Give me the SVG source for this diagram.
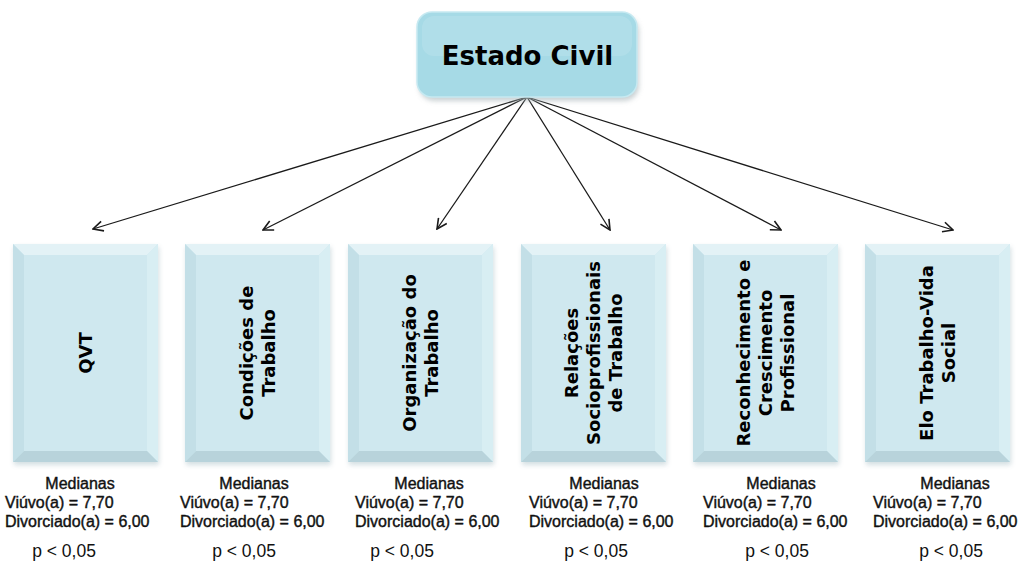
<svg xmlns="http://www.w3.org/2000/svg" width="1029" height="564" viewBox="0 0 1029 564">
<style>
.vt{font-family:"DejaVu Sans",Verdana,sans-serif;font-weight:bold;font-size:18px;fill:#000;text-anchor:middle}
.title{font-family:"DejaVu Sans",Verdana,sans-serif;font-weight:bold;font-size:26px;fill:#000;text-anchor:middle}
.med{font-family:"Liberation Sans",Arial,sans-serif;font-size:16px;fill:#111;stroke:#111;stroke-width:0.4}
.p{font-family:"Liberation Sans",Arial,sans-serif;font-size:17.5px;fill:#111;text-anchor:middle}
.arrow{stroke:#1a1a1a;stroke-width:1.3;fill:none;marker-end:url(#ah)}
</style>
<defs>
<marker id="ah" viewBox="0 0 12 12" refX="11" refY="6" markerWidth="12" markerHeight="12" markerUnits="userSpaceOnUse" orient="auto">
<path d="M1,1 L11,6 L1,11" fill="none" stroke="#1a1a1a" stroke-width="1.6"/>
</marker>
<filter id="sh" x="-20%" y="-20%" width="140%" height="150%">
<feGaussianBlur stdDeviation="2.5"/>
</filter>
<g id="bev">
<rect x="1" y="3" width="145" height="218" fill="#9fb7bf" opacity="0.45" filter="url(#sh)"/>
<rect x="0" y="0" width="145" height="218" fill="#cfe8ef"/>
<polygon points="0,0 145,0 134,11 11,11" fill="#e3f2f6"/>
<polygon points="0,0 11,11 11,207 0,218" fill="#c3dfe7"/>
<polygon points="145,0 145,218 134,207 134,11" fill="#d8eef3"/>
<polygon points="0,218 11,207 134,207 145,218" fill="#b8d3db"/>
</g>
</defs>
<rect width="1029" height="564" fill="#ffffff"/>

<g id="connectors">
<line class="arrow" x1="527" y1="97" x2="93" y2="229"/>
<line class="arrow" x1="527" y1="97" x2="263" y2="230"/>
<line class="arrow" x1="527" y1="97" x2="437" y2="229"/>
<line class="arrow" x1="527" y1="97" x2="610" y2="230"/>
<line class="arrow" x1="527" y1="97" x2="781" y2="230"/>
<line class="arrow" x1="527" y1="97" x2="953" y2="230"/>
</g>

<g id="estado-civil">
<rect x="419" y="16" width="220" height="85" rx="15" fill="#a7b4b8" opacity="0.6" filter="url(#sh)"/>
<rect x="417" y="12" width="220" height="85" rx="15" fill="#a6dae6" stroke="#c6e9f1" stroke-width="1.5"/>
<rect x="422" y="16" width="210" height="40" rx="12" fill="#ffffff" opacity="0.12"/>
<text class="title" x="527.5" y="65">Estado Civil</text>
</g>

<g id="qvt">
<use href="#bev" x="13" y="244"/>
<text class="vt" transform="translate(85.5,353) rotate(-90)" y="6.5">QVT</text>
</g>

<g id="condicoes">
<use href="#bev" x="185" y="244"/>
<text class="vt" transform="translate(257.5,353) rotate(-90)"><tspan x="0" y="-4.3">Condições de</tspan><tspan x="0" y="17.3">Trabalho</tspan></text>
</g>

<g id="organizacao">
<use href="#bev" x="348" y="244"/>
<text class="vt" transform="translate(420.5,353) rotate(-90)"><tspan x="0" y="-4.3">Organização  do</tspan><tspan x="0" y="17.3">Trabalho</tspan></text>
</g>

<g id="relacoes">
<use href="#bev" x="521" y="244"/>
<text class="vt" transform="translate(593.5,353) rotate(-90)"><tspan x="0" y="-15.1">Relações</tspan><tspan x="0" y="6.5">Socioprofissionais</tspan><tspan x="0" y="28.1">de Trabalho</tspan></text>
</g>

<g id="reconhecimento">
<use href="#bev" x="693" y="244"/>
<text class="vt" transform="translate(765.5,353) rotate(-90)"><tspan x="0" y="-15.1">Reconhecimento e</tspan><tspan x="0" y="6.5">Crescimento</tspan><tspan x="0" y="28.1">Profissional</tspan></text>
</g>

<g id="elo">
<use href="#bev" x="865" y="244"/>
<text class="vt" transform="translate(937.5,353) rotate(-90)"><tspan x="0" y="-4.3">Elo Trabalho-Vida</tspan><tspan x="0" y="17.3">Social</tspan></text>
</g>

<g id="stats-qvt">
<text class="med" x="80" y="489" text-anchor="middle">Medianas</text>
<text class="med" x="5" y="508">Viúvo(a) = 7,70</text>
<text class="med" x="5" y="527">Divorciado(a) = 6,00</text>
<text class="p" x="64" y="557">p &lt; 0,05</text>
</g>
<g id="stats-condicoes">
<text class="med" x="254" y="489" text-anchor="middle">Medianas</text>
<text class="med" x="180" y="508">Viúvo(a) = 7,70</text>
<text class="med" x="180" y="527">Divorciado(a) = 6,00</text>
<text class="p" x="244" y="557">p &lt; 0,05</text>
</g>
<g id="stats-organizacao">
<text class="med" x="429" y="489" text-anchor="middle">Medianas</text>
<text class="med" x="355" y="508">Viúvo(a) = 7,70</text>
<text class="med" x="355" y="527">Divorciado(a) = 6,00</text>
<text class="p" x="402" y="557">p &lt; 0,05</text>
</g>
<g id="stats-relacoes">
<text class="med" x="604" y="489" text-anchor="middle">Medianas</text>
<text class="med" x="529" y="508">Viúvo(a) = 7,70</text>
<text class="med" x="529" y="527">Divorciado(a) = 6,00</text>
<text class="p" x="596" y="557">p &lt; 0,05</text>
</g>
<g id="stats-reconhecimento">
<text class="med" x="781" y="489" text-anchor="middle">Medianas</text>
<text class="med" x="703" y="508">Viúvo(a) = 7,70</text>
<text class="med" x="703" y="527">Divorciado(a) = 6,00</text>
<text class="p" x="777" y="557">p &lt; 0,05</text>
</g>
<g id="stats-elo">
<text class="med" x="955" y="489" text-anchor="middle">Medianas</text>
<text class="med" x="873" y="508">Viúvo(a) = 7,70</text>
<text class="med" x="873" y="527">Divorciado(a) = 6,00</text>
<text class="p" x="951" y="557">p &lt; 0,05</text>
</g>
</svg>
